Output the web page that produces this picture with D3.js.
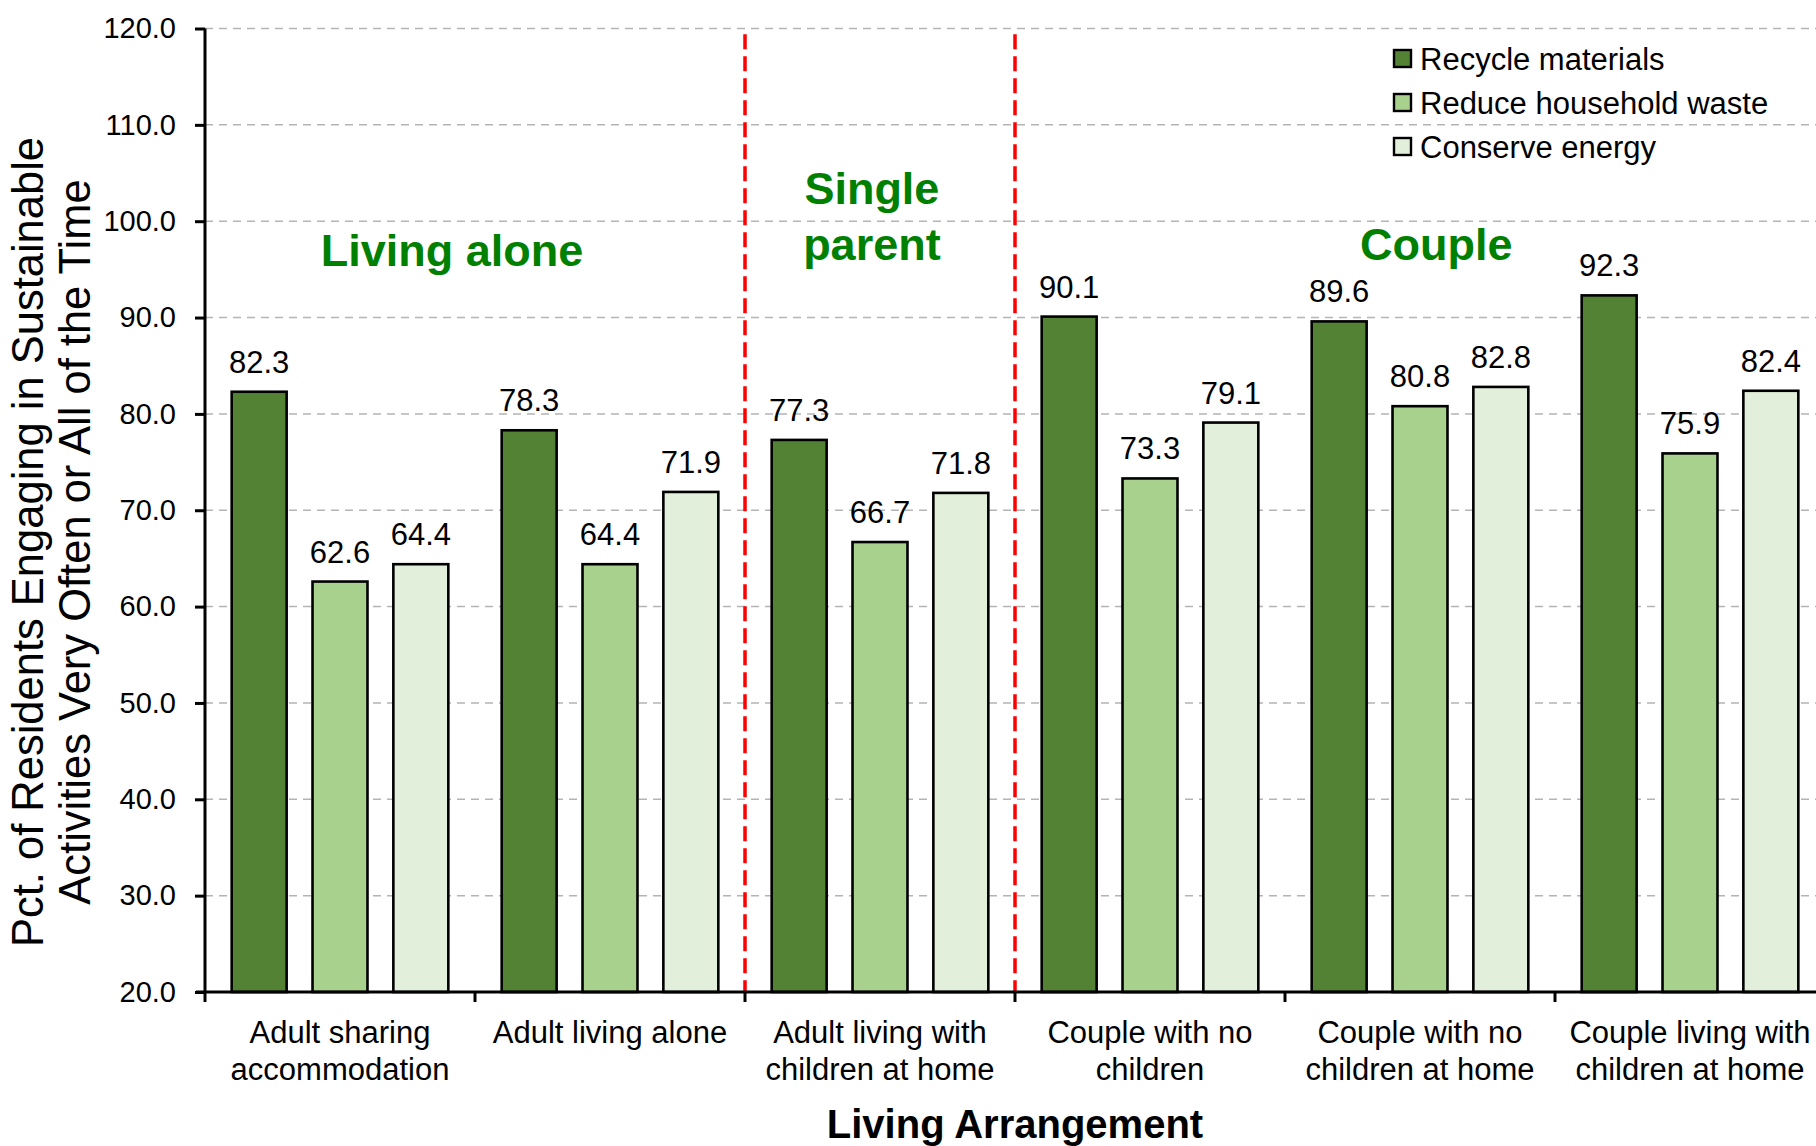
<!DOCTYPE html>
<html>
<head>
<meta charset="utf-8">
<script src="https://cdn.jsdelivr.net/npm/d3@7"></script>
<style>
  html, body { margin: 0; padding: 0; background: #ffffff; }
  svg { display: block; font-family: "Liberation Sans", Arial, sans-serif; }
</style>
</head>
<body>
<svg id="chart" width="1816" height="1146"></svg>
<script>
// Living arrangements along the x axis (two-line labels)
const categories = [
  "Adult sharing accommodation",
  "Adult living alone",
  "Adult living with children at home",
  "Couple with no children",
  "Couple with no children at home",
  "Couple living with children at home"
];
const categoryLines = [
  ["Adult sharing", "accommodation"],
  ["Adult living alone"],
  ["Adult living with", "children at home"],
  ["Couple with no", "children"],
  ["Couple with no", "children at home"],
  ["Couple living with", "children at home"]
];

// Share of residents doing each activity very often / all of the time (%)
const seriesNames = ["Recycle materials", "Reduce household waste", "Conserve energy"];
const recycleMaterials     = [82.3, 78.3, 77.3, 90.1, 89.6, 92.3];
const reduceHouseholdWaste = [62.6, 64.4, 66.7, 73.3, 80.8, 75.9];
const conserveEnergy       = [64.4, 71.9, 71.8, 79.1, 82.8, 82.4];
const seriesValues = [recycleMaterials, reduceHouseholdWaste, conserveEnergy];
const seriesColors = ["#548235", "#A9D18E", "#E2EFDA"];

// y axis ticks
const yTicks = [20, 30, 40, 50, 60, 70, 80, 90, 100, 110, 120];

// Group headings drawn inside the plot
const groupLabels = [
  { lines: ["Living alone"], cat: 0, frac: 0.915, values: [95.4] },
  { lines: ["Single", "parent"], cat: 2, frac: 0.47, values: [101.8, 96.0] },
  { lines: ["Couple"], cat: 4, frac: 0.56, values: [96.0] }
];
// Dividers between the groups sit on these category boundaries
const dividerCats = ["Adult living with children at home", "Couple with no children"];

const svg = d3.select("#chart");
const plotLeft = 205, plotRight = 1825, plotTop = 28.5, plotBottom = 992;

const x0 = d3.scaleBand().domain(categories).range([plotLeft, plotRight]).paddingInner(0).paddingOuter(0);
const x1 = d3.scaleBand().domain(seriesNames).range([0, x0.bandwidth()])
  .paddingInner(0.32).paddingOuter(0.33);
const y = d3.scaleLinear().domain([20, 120]).range([plotBottom, plotTop]);

// Dashed horizontal gridlines
svg.append("g")
  .selectAll("line")
  .data(yTicks.filter(t => t > 20))
  .join("line")
  .attr("x1", plotLeft).attr("x2", 1816)
  .attr("y1", d => y(d)).attr("y2", d => y(d))
  .attr("stroke", "#b4b4b4")
  .attr("stroke-width", 1.5)
  .attr("stroke-dasharray", "8,6");

// Bars
const rows = categories.map((c, i) => ({
  cat: c,
  vals: seriesNames.map((s, j) => ({ series: s, value: seriesValues[j][i], color: seriesColors[j] }))
}));

const groups = svg.append("g")
  .selectAll("g")
  .data(rows)
  .join("g")
  .attr("transform", d => `translate(${x0(d.cat)},0)`);

groups.selectAll("rect")
  .data(d => d.vals)
  .join("rect")
  .attr("x", d => x1(d.series))
  .attr("width", x1.bandwidth())
  .attr("y", d => y(d.value))
  .attr("height", d => y(20) - y(d.value))
  .attr("fill", d => d.color)
  .attr("stroke", "#000")
  .attr("stroke-width", 2.6);

// Value labels above each bar
groups.selectAll("text")
  .data(d => d.vals)
  .join("text")
  .attr("x", d => x1(d.series) + x1.bandwidth() / 2)
  .attr("y", d => y(d.value) - 19)
  .attr("text-anchor", "middle")
  .attr("font-size", 31)
  .attr("fill", "#000")
  .text(d => d.value.toFixed(1));

// Red dashed dividers between living-arrangement groups
svg.append("g")
  .selectAll("line")
  .data(dividerCats)
  .join("line")
  .attr("x1", d => x0(d)).attr("x2", d => x0(d))
  .attr("y1", y(119.4)).attr("y2", plotBottom)
  .attr("stroke", "#ff0000")
  .attr("stroke-width", 3.5)
  .attr("stroke-dasharray", "15,7");

// Group headings
groupLabels.forEach(g => {
  g.lines.forEach((line, k) => {
    svg.append("text")
      .attr("x", x0(categories[g.cat]) + g.frac * x0.bandwidth())
      .attr("y", y(g.values[k]))
      .attr("text-anchor", "middle")
      .attr("font-size", 45)
      .attr("font-weight", "bold")
      .attr("fill", "#008000")
      .text(line);
  });
});

// Y axis
const yAxis = svg.append("g")
  .attr("transform", `translate(${plotLeft},0)`)
  .call(d3.axisLeft(y).tickValues(yTicks).tickFormat(d3.format(".1f")).tickSize(10).tickPadding(19));
yAxis.select(".domain").attr("stroke", "#000").attr("stroke-width", 3).attr("d", `M0,${plotTop}V${plotBottom}`);
yAxis.selectAll(".tick line").attr("stroke", "#000").attr("stroke-width", 3);
yAxis.selectAll(".tick text").attr("font-size", 29).attr("fill", "#000")
  .attr("font-family", "'Liberation Sans', Arial, sans-serif");

// X axis: ticks on category boundaries, labels centred in each band
const xAxis = svg.append("g")
  .attr("transform", `translate(0,${plotBottom})`);
xAxis.append("line")
  .attr("x1", plotLeft - 9).attr("x2", 1816)
  .attr("y1", 0).attr("y2", 0)
  .attr("stroke", "#000").attr("stroke-width", 3);
xAxis.selectAll(".xtick")
  .data(categories)
  .join("line")
  .attr("class", "xtick")
  .attr("x1", d => x0(d)).attr("x2", d => x0(d))
  .attr("y1", 0).attr("y2", 10)
  .attr("stroke", "#000").attr("stroke-width", 3);
xAxis.selectAll(".xlabel")
  .data(categories)
  .join("text")
  .attr("class", "xlabel")
  .attr("text-anchor", "middle")
  .attr("font-size", 31)
  .attr("fill", "#000")
  .each(function(d, i) {
    const t = d3.select(this);
    categoryLines[i].forEach((line, k) => {
      t.append("tspan")
        .attr("x", x0(d) + x0.bandwidth() / 2)
        .attr("y", 51 + k * 37)
        .text(line);
    });
  });

// Axis titles
svg.append("text")
  .attr("x", (plotLeft + plotRight) / 2)
  .attr("y", 1138)
  .attr("text-anchor", "middle")
  .attr("font-size", 40)
  .attr("font-weight", "bold")
  .attr("fill", "#000")
  .text("Living Arrangement");

const yTitle = ["Pct. of Residents Engaging in Sustainable", "Activities Very Often or All of the Time"];
yTitle.forEach((line, k) => {
  svg.append("text")
    .attr("transform", `translate(${43 + k * 47},542) rotate(-90)`)
    .attr("text-anchor", "middle")
    .attr("font-size", 43.5)
    .attr("fill", "#000")
    .text(line);
});

// Legend
const legend = svg.append("g")
  .selectAll("g")
  .data(seriesNames)
  .join("g")
  .attr("transform", (d, i) => `translate(1394,${59 + i * 44})`);
legend.append("rect")
  .attr("x", 0).attr("y", -9)
  .attr("width", 17).attr("height", 17)
  .attr("fill", (d, i) => seriesColors[i])
  .attr("stroke", "#000").attr("stroke-width", 2.4);
legend.append("text")
  .attr("x", 26).attr("y", 0)
  .attr("dy", "0.35em")
  .attr("font-size", 31)
  .attr("fill", "#000")
  .text(d => d);
</script>
</body>
</html>
